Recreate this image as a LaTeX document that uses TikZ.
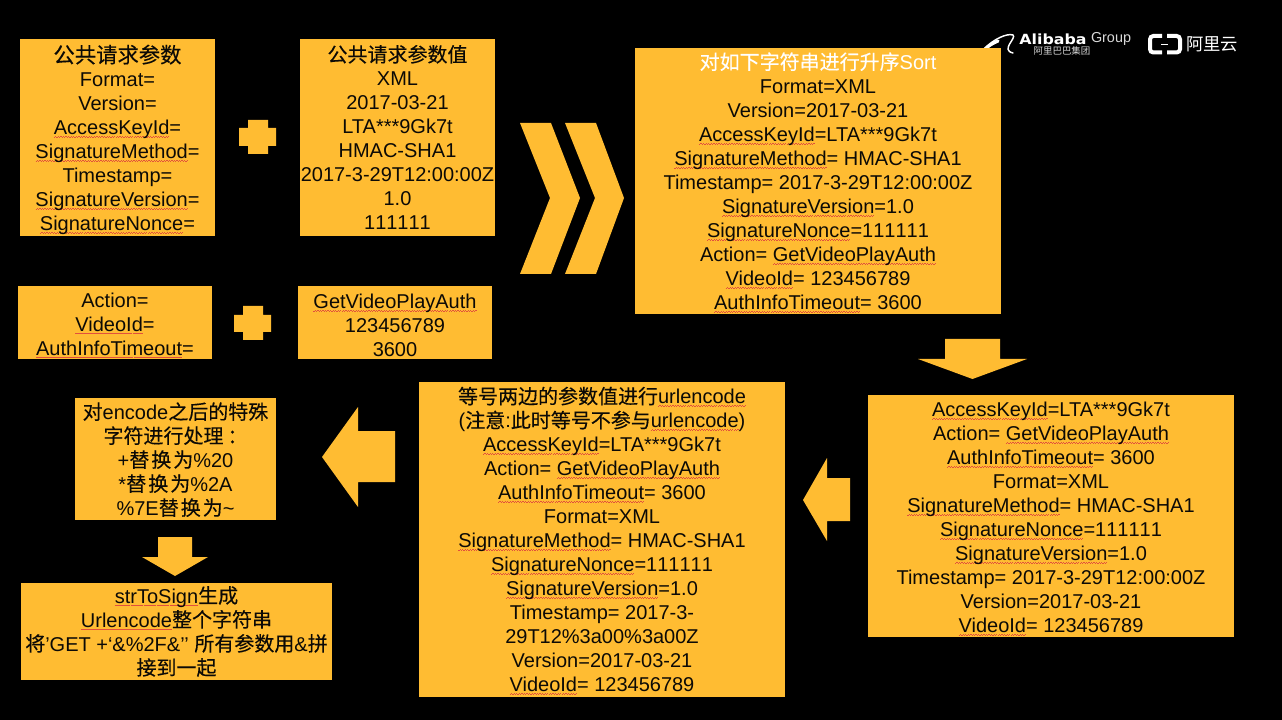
\documentclass[tikz,border=0pt]{standalone}
\usepackage{fontspec}
\usepackage{graphicx}
\setmainfont{Liberation Sans}
\newfontfamily\cjk{Noto Sans CJK SC}[FakeBold=0.25]
\newfontfamily\cjkthin{Noto Sans CJK SC}
\newfontfamily\dvb{DejaVu Sans Bold}
\newcommand\zh[1]{{\cjk #1}}
\definecolor{amber}{HTML}{FFBC32}
\definecolor{wavered}{HTML}{E2503C}
\definecolor{ink}{HTML}{0C0A06}
\newsavebox\sqbox
\newcommand\sq[1]{\leavevmode\sbox\sqbox{#1}\rlap{\raisebox{-2pt}{\hbox to\wd\sqbox{\color{wavered}\xleaders\hbox{\rule{.95pt}{.32pt}\raisebox{.5pt}{\rule{.95pt}{.32pt}}}\hfil}}}\usebox\sqbox}
\newcommand\tgap{\kern1.5pt}
\newcommand\tp[1]{\rule{0pt}{#1pt}}
\newcommand\ones{1\kern0pt 1\kern0pt 1\kern0pt 1\kern0pt 1\kern0pt 1}
\tikzset{
  x=0.75pt,y=-0.75pt,
  panel/.style 2 args={fill=amber,text=ink,inner sep=0pt,align=center,
    minimum width=#1*0.75pt,minimum height=#2*0.75pt,
    font=\fontsize{15}{18}\selectfont},
  block/.style={fill=amber},
  logotext/.style={text=white,inner sep=0pt}
}
\begin{document}
\begin{tikzpicture}
\fill[black] (0,0) rectangle (1282,720);
\useasboundingbox (0,0) rectangle (1282,720);

% logos
\draw[white,line width=1.1pt,line cap=round] (985,48) .. controls (994,39) and (1007,33) .. (1013,35) .. controls (1017,38) and (1000,50) .. (1013,53);
\draw[white,line width=2.4pt,line cap=round] (984,50) .. controls (988,46) and (993,43) .. (998,41);
\node[logotext,font=\fontsize{10.5}{12}\selectfont\dvb] (alibaba) at (1053,39) {\scalebox{1.13}[1]{Alibaba}};
\node[logotext,text=white!85!black,font=\fontsize{10.8}{12}\selectfont] (group) at (1111,39) {Group};
\node[logotext,text=white!85!black,font=\fontsize{7.1}{8}\selectfont\cjkthin] (alicn) at (1062,51) {阿里巴巴集团};
\draw[white,line width=3pt,rounded corners=2.5pt] (1162,36) -- (1150,36) -- (1150,52.5) -- (1162,52.5);
\draw[white,line width=3pt,rounded corners=2.5pt] (1167,36) -- (1180,36) -- (1180,52.5) -- (1167,52.5);
\draw[white,line width=.5pt] (1161,44.5) -- (1168,44.5);
\node[logotext,font=\fontsize{13}{14}\selectfont\cjkthin] (aliyun) at (1212,44) {阿里云};

% panels
\node[panel={195}{197}] (keys) at (117.5,137.5) {\tp{17}{\fontsize{16}{18}\selectfont\zh{公共请求参数}}\\Format=\\Version=\\\sq{AccessKeyId}=\\\sq{SignatureMethod}=\\Timestamp=\\\sq{SignatureVersion}=\\\sq{SignatureNonce}=};
\node[panel={195}{197}] (vals) at (397.5,137.5) {\zh{公共请求参数值}\\XML\\2017-03-21\\LTA***9Gk7t\\HMAC-SHA1\\2017-3-29T12:00:00Z\\1.0\\\ones};
\node[panel={366}{266}] (sorted) at (818,181) {\tp{14.5}\textcolor{white}{\zh{对如下字符串进行升序}Sort}\\Format=XML\\Version=2017-03-21\\\sq{AccessKeyId}=LTA***9Gk7t\\\sq{SignatureMethod}= HMAC-SHA1\\Timestamp= 2017-3-29T12:00:00Z\\\sq{SignatureVersion}=1.0\\\sq{SignatureNonce}=\ones\\Action= \sq{GetVideoPlayAuth}\\\sq{VideoId}= 123456789\\\sq{AuthInfoTimeout}= 3600};
\node[panel={194}{73}] (keystwo) at (115,322.5) {\tp{15}Action=\\\sq{VideoId}=\\\sq{AuthInfoTimeout}=};
\node[panel={194}{73}] (valstwo) at (395,322.5) {\tp{15}\sq{GetVideoPlayAuth}\\123456789\\3600};
\node[panel={366}{242}] (ordered) at (1051,516) {\tp{14.5}\sq{AccessKeyId}=LTA***9Gk7t\\Action= \sq{GetVideoPlayAuth}\\\sq{AuthInfoTimeout}= 3600\\Format=XML\\\sq{SignatureMethod}= HMAC-SHA1\\\sq{SignatureNonce}=\ones\\\sq{SignatureVersion}=1.0\\Timestamp= 2017-3-29T12:00:00Z\\Version=2017-03-21\\\sq{VideoId}= 123456789};
\node[panel={366}{315}] (encoded) at (602,539.5) {\tp{14.3}\zh{等号两边的参数值进行}\sq{urlencode}\\(\zh{注意}:\zh{此时等号不参与}\sq{urlencode})\\\sq{AccessKeyId}=LTA***9Gk7t\\Action= \sq{GetVideoPlayAuth}\\\sq{AuthInfoTimeout}= 3600\\Format=XML\\\sq{SignatureMethod}= HMAC-SHA1\\\sq{SignatureNonce}=\ones\\\sq{SignatureVersion}=1.0\\Timestamp= 2017-3-\\29T12\%3a00\%3a00Z\\Version=2017-03-21\\\sq{VideoId}= 123456789};
\node[panel={201}{122}] (special) at (175.5,459) {\tp{13.6}\zh{对}encode\zh{之后的特殊}\\\zh{字符进行处理\kern3pt ：}\\+\zh{替\tgap 换\tgap 为}\%20\\*\zh{替\tgap 换\tgap 为}\%2A\\\%7E\zh{替\tgap 换\tgap 为}\textasciitilde};
\node[panel={311}{97}] (sign) at (176.5,631.5) {\sq{strToSign}\zh{生成}\\\sq{Urlencode}\zh{整个字符串}\\\zh{将}’GET +‘\&\%2F\&’{}’ \zh{所有参数用}\&\zh{拼}\\\zh{接到一起}};

% plus signs
\fill[block] (248,120) -- (268,120) -- (268,128) -- (276,128) -- (276,146) -- (268,146) -- (268,154) -- (248,154) -- (248,146) -- (239,146) -- (239,128) -- (248,128) -- cycle;
\fill[block] (243,306) -- (263,306) -- (263,315) -- (271,315) -- (271,332) -- (263,332) -- (263,340) -- (243,340) -- (243,332) -- (234,332) -- (234,315) -- (243,315) -- cycle;

% chevrons
\fill[block] (520,123) -- (551,123) -- (580,198) -- (551,274) -- (520,274) -- (550,198) -- cycle;
\fill[block] (565,123) -- (596,123) -- (624,198) -- (596,274) -- (565,274) -- (595,198) -- cycle;

% block arrows
\fill[block] (945,339) -- (1000,339) -- (1000,359) -- (1027,359) -- (972.5,379) -- (918,359) -- (945,359) -- cycle;
\fill[block] (803,500) -- (827,458) -- (827,478) -- (850,478) -- (850,521) -- (827,521) -- (827,541) -- cycle;
\fill[block] (322,457) -- (358,407) -- (358,431) -- (395,431) -- (395,482) -- (358,482) -- (358,507) -- cycle;
\fill[block] (158,537) -- (192,537) -- (192,557) -- (208,557) -- (175,576) -- (142,557) -- (158,557) -- cycle;
\end{tikzpicture}
\end{document}
